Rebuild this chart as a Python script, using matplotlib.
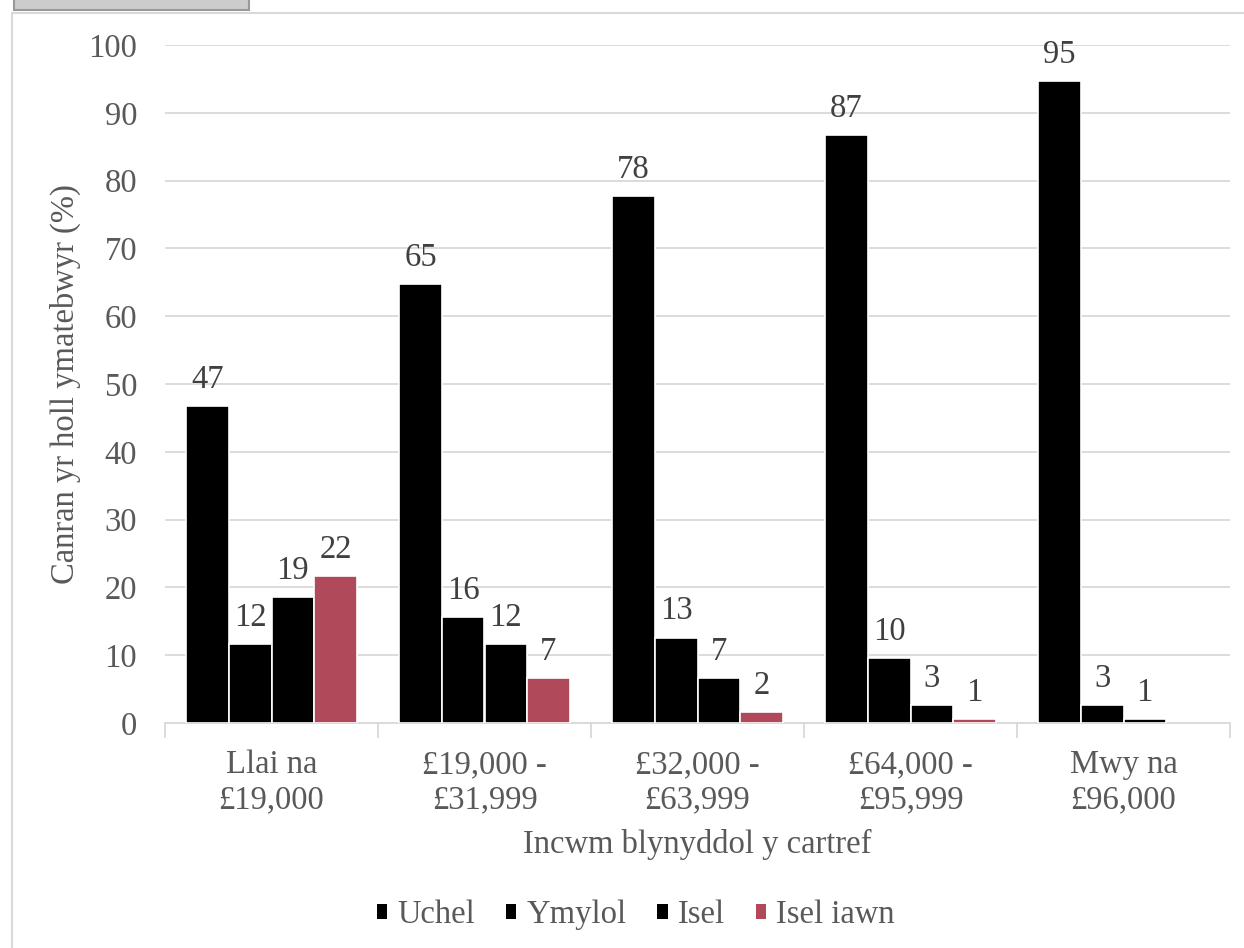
import numpy as np
import matplotlib
matplotlib.use('Agg')
import matplotlib.pyplot as plt
from matplotlib.patches import Rectangle

plt.rcParams['font.family'] = ['Liberation Serif', 'DejaVu Serif']

# data
categories = ['Llai na\n£19,000', '£19,000 -\n£31,999', '£32,000 -\n£63,999',
              '£64,000 -\n£95,999', 'Mwy na\n£96,000']
series = ['Uchel', 'Ymylol', 'Isel', 'Isel iawn']
uchel = [46.7, 64.7, 77.7, 86.7, 94.7]
ymylol = [11.6, 15.6, 12.6, 9.6, 2.6]
isel = [18.6, 11.6, 6.6, 2.6, 0.6]
isel_iawn = [21.7, 6.6, 1.6, 0.6, np.nan]
colours = ['#000000', '#000000', '#000000', '#b04a5a']

values = [uchel, ymylol, isel, isel_iawn]
fs = 23.5

fig = plt.figure(figsize=(12.44, 9.48), dpi=100)
ax = fig.add_axes([165/1244, 1-723/948, 1065/1244, 678/948])

x = np.arange(len(categories))
w = 0.2
for i, (name, vals, col) in enumerate(zip(series, values, colours)):
    pos = x + (i - 1.5) * w
    bars = ax.bar(pos, vals, width=w, color=col, edgecolor='white', linewidth=1.2,
                  label=name, zorder=3)
    labs = ['' if np.isnan(v) else str(int(round(v))) for v in vals]
    ax.bar_label(bars, labels=labs, padding=8, fontsize=fs, color='#404040')

ax.set_xlim(-0.5, len(categories) - 0.5)
ax.set_ylim(0, 100)
ax.set_yticks(range(0, 101, 10))
ax.yaxis.grid(True, color='#d9d9d9', linewidth=1.3, zorder=0)
for s in ['top', 'right', 'left']:
    ax.spines[s].set_visible(False)
ax.spines['bottom'].set_color('#d9d9d9')
ax.spines['bottom'].set_linewidth(1.3)
ax.tick_params(axis='y', length=0, labelsize=fs, labelcolor='#595959', pad=20)
ax.set_xticks(x)
ax.set_xticklabels(categories)
ax.tick_params(axis='x', length=0, labelsize=fs, labelcolor='#595959', pad=19)
ax.set_xticks(np.arange(-0.5, len(categories)), minor=True)
ax.tick_params(axis='x', which='minor', length=11, color='#d9d9d9', width=1.3)

ax.set_xlabel('Incwm blynyddol y cartref', fontsize=fs, color='#595959', labelpad=10)
ax.set_ylabel('Canran yr holl ymatebwyr (%)', fontsize=fs, color='#595959', labelpad=5)

leg = ax.legend(loc='center', bbox_to_anchor=(0.511, 1 - 915/948), bbox_transform=fig.transFigure,
                ncol=4, frameon=False, fontsize=fs, handlelength=0.32, handleheight=0.32,
                handletextpad=0.3, columnspacing=0.95)
for t in leg.get_texts():
    t.set_color('#595959')
for h in leg.legend_handles:
    h.set_linewidth(0)

# chart frame and the grey tab at the top left
fig.patches.append(Rectangle((12/1244, -0.01), 1.0, 1 - 13/948 + 0.01, transform=fig.transFigure,
                             fill=False, edgecolor='#d9d9d9', linewidth=1.5))
fig.patches.append(Rectangle((14/1244, 1 - 10/948), 235/1244, 0.02, transform=fig.transFigure,
                             facecolor='#cccccc', edgecolor='#999999', linewidth=1.5))

fig.savefig('out.png', dpi=100)
